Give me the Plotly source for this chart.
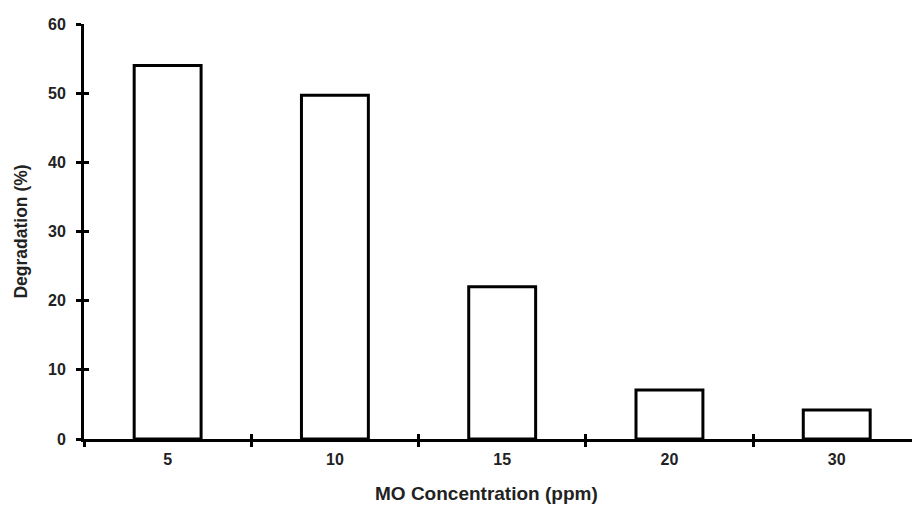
import plotly.graph_objects as go

categories = ["5", "10", "15", "20", "30"]
degradation = [54.0, 49.7, 22.0, 7.1, 4.2]
y_ticks = [0, 10, 20, 30, 40, 50, 60]

font_family = "Liberation Sans, Arial, sans-serif"
txt = "#222"

fig = go.Figure()
fig.add_trace(go.Bar(
    x=categories, y=degradation, width=0.4,
    marker=dict(color="white", line=dict(color="black", width=3)),
    showlegend=False,
))
# invisible trace on overlay axes for crossing ticks
fig.add_trace(go.Scatter(x=categories, y=degradation, xaxis="x2", yaxis="y2",
                         mode="markers", marker=dict(opacity=0), showlegend=False,
                         hoverinfo="skip"))

xr = [-0.5, 4.45]
yr = [0, 60]
fig.update_layout(
    width=912, height=506,
    margin=dict(l=84, r=0, t=24, b=67, autoexpand=False),
    plot_bgcolor="white", paper_bgcolor="white",
    font=dict(family=font_family, color=txt, size=16),
    xaxis=dict(
        type="category", range=xr, tickson="boundaries",
        showline=True, linecolor="black", linewidth=3,
        ticks="outside", ticklen=5, tickwidth=3, tickcolor="black",
        showgrid=False, zeroline=False, ticklabelstandoff=4,
        tickfont=dict(size=16, family=font_family, weight="bold", color=txt),
    ),
    yaxis=dict(
        range=yr, tickvals=y_ticks,
        showline=True, linecolor="black", linewidth=3,
        ticks="outside", ticklen=5, tickwidth=3, tickcolor="black",
        showgrid=False, zeroline=False, ticklabelstandoff=7,
        tickfont=dict(size=16, family=font_family, weight="bold", color=txt),
        title=dict(text="Degradation (%)", standoff=16,
                   font=dict(size=17.5, family=font_family, weight="bold", color=txt)),
    ),
    xaxis2=dict(
        type="category", range=xr, tickson="boundaries", overlaying="x",
        ticks="inside", ticklen=5, tickwidth=3, tickcolor="black",
        showticklabels=False, showgrid=False, zeroline=False, showline=False,
    ),
    yaxis2=dict(
        range=yr, tickvals=y_ticks, overlaying="y",
        ticks="inside", ticklen=5, tickwidth=3, tickcolor="black",
        showticklabels=False, showgrid=False, zeroline=False, showline=False,
    ),
    annotations=[dict(
        text="MO Concentration (ppm)", xref="paper", yref="paper",
        x=(486 - 84) / (912 - 84), y=-54 / 415, xanchor="center", yanchor="middle",
        showarrow=False,
        font=dict(size=19, family=font_family, weight="bold", color=txt),
    )],
)

fig.write_html(
    "out.html",
    config={"displayModeBar": False},
    post_script="document.body.style.margin='0';document.body.style.overflow='hidden';",
)
